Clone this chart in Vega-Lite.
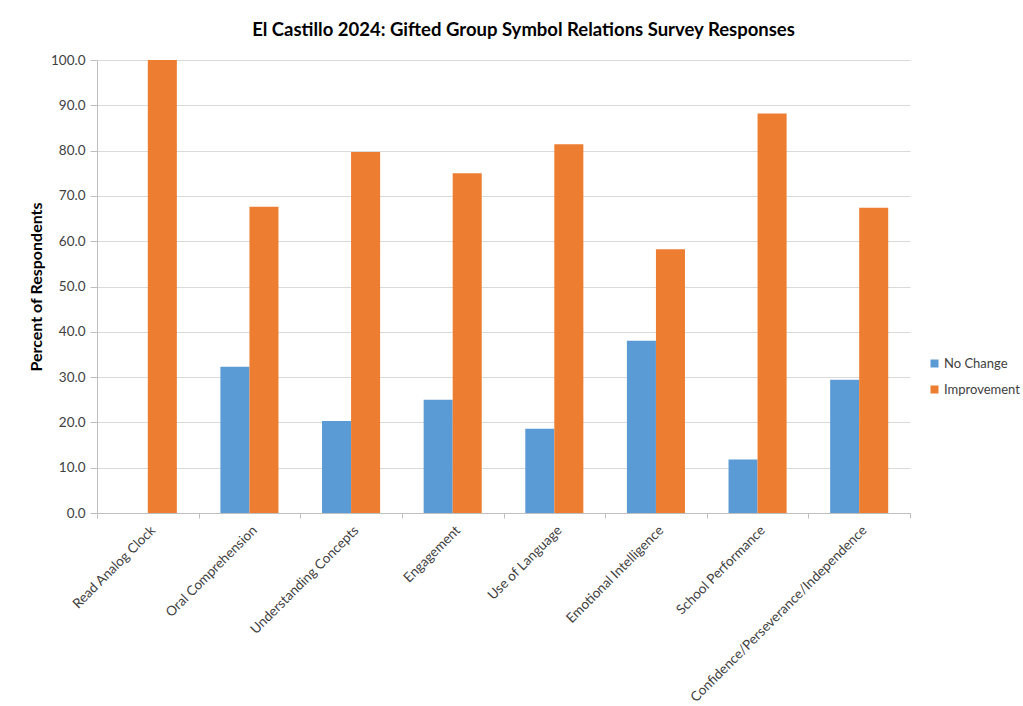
{
  "$schema": "https://vega.github.io/schema/vega-lite/v6.json",
  "autosize": "none",
  "width": 813,
  "height": 453,
  "padding": {"left": 97, "top": 60, "right": 113, "bottom": 193},
  "background": "white",
  "title": {
    "text": "El Castillo 2024: Gifted Group Symbol Relations Survey Responses",
    "font": "Lato",
    "fontSize": 18.5,
    "fontWeight": "bold",
    "color": "#000000",
    "anchor": "middle",
    "dx": 20,
    "offset": 14
  },
  "config": {
    "font": "Lato",
    "view": {"stroke": null}
  },
  "data": {
    "values": [
      {"category": "Read Analog Clock", "response": "No Change", "percent": 0.0},
      {"category": "Read Analog Clock", "response": "Improvement", "percent": 100.0},
      {"category": "Oral Comprehension", "response": "No Change", "percent": 32.3},
      {"category": "Oral Comprehension", "response": "Improvement", "percent": 67.6},
      {"category": "Understanding Concepts", "response": "No Change", "percent": 20.3},
      {"category": "Understanding Concepts", "response": "Improvement", "percent": 79.7},
      {"category": "Engagement", "response": "No Change", "percent": 25.0},
      {"category": "Engagement", "response": "Improvement", "percent": 75.0},
      {"category": "Use of Language", "response": "No Change", "percent": 18.6},
      {"category": "Use of Language", "response": "Improvement", "percent": 81.4},
      {"category": "Emotional Intelligence", "response": "No Change", "percent": 38.0},
      {"category": "Emotional Intelligence", "response": "Improvement", "percent": 58.2},
      {"category": "School Performance", "response": "No Change", "percent": 11.8},
      {"category": "School Performance", "response": "Improvement", "percent": 88.2},
      {"category": "Confidence/Perseverance/Independence", "response": "No Change", "percent": 29.4},
      {"category": "Confidence/Perseverance/Independence", "response": "Improvement", "percent": 67.4}
    ]
  },
  "mark": {"type": "bar"},
  "encoding": {
    "x": {
      "field": "category",
      "type": "nominal",
      "sort": null,
      "title": null,
      "scale": {"paddingInner": 0, "paddingOuter": 0},
      "axis": {
        "labelAngle": -45,
        "labelFontSize": 13.5,
        "labelColor": "#404040",
        "labelPadding": 5,
        "labelLimit": 400,
        "tickBand": "extent",
        "tickSize": 5,
        "tickColor": "#bfbfbf",
        "domainColor": "#bfbfbf",
        "grid": false
      }
    },
    "xOffset": {
      "field": "response",
      "type": "nominal",
      "sort": ["No Change", "Improvement"],
      "scale": {"paddingInner": 0, "paddingOuter": 0.75}
    },
    "y": {
      "field": "percent",
      "type": "quantitative",
      "title": "Percent of Respondents",
      "scale": {"domain": [0, 100], "nice": false},
      "axis": {
        "values": [0, 10, 20, 30, 40, 50, 60, 70, 80, 90, 100],
        "format": ".1f",
        "labelFontSize": 13.5,
        "labelColor": "#404040",
        "labelPadding": 5,
        "tickSize": 7,
        "tickColor": "#bfbfbf",
        "domainColor": "#bfbfbf",
        "gridColor": "#d9d9d9",
        "titleFontSize": 16,
        "titleFontWeight": "bold",
        "titleColor": "#000000",
        "titlePadding": 6
      }
    },
    "color": {
      "field": "response",
      "type": "nominal",
      "sort": ["No Change", "Improvement"],
      "scale": {"domain": ["No Change", "Improvement"], "range": ["#5B9BD5", "#ED7D31"]},
      "legend": {
        "title": null,
        "orient": "none",
        "legendX": 831,
        "legendY": 297,
        "symbolType": "square",
        "symbolSize": 64,
        "symbolStrokeWidth": 0,
        "labelFontSize": 13,
        "labelColor": "#404040",
        "labelOffset": 3,
        "labelLimit": 200,
        "rowPadding": 12
      }
    }
  }
}
